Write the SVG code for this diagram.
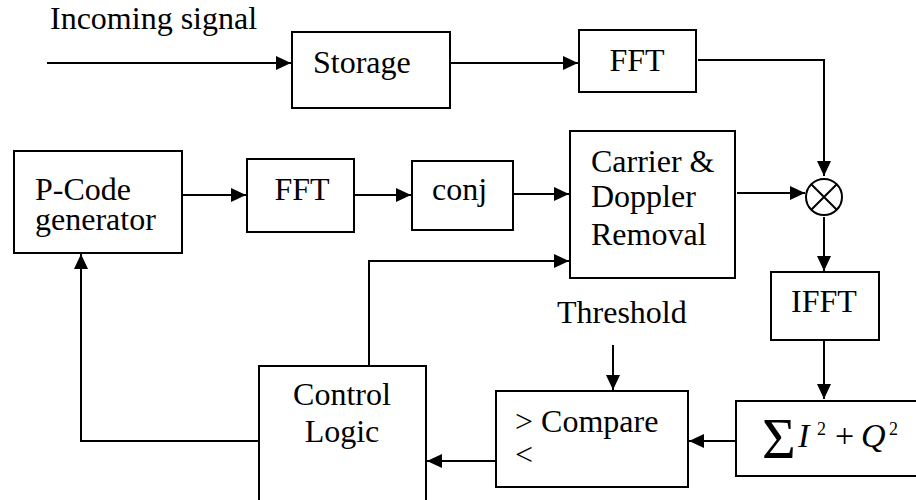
<svg xmlns="http://www.w3.org/2000/svg" width="916" height="500" viewBox="0 0 916 500">
  <style>
    .box { fill: #fff; stroke: #000; stroke-width: 2; }
    .wire { fill: none; stroke: #000; stroke-width: 2; marker-end: url(#arrow); }
    .plain { fill: none; stroke: #000; stroke-width: 2; }
    text { font-family: "Liberation Serif", "Times New Roman", serif; font-size: 32px; fill: #000; }
    .mid { text-anchor: middle; }
    .it { font-style: italic; }
  </style>
  <defs>
    <marker id="arrow" markerUnits="userSpaceOnUse" markerWidth="16" markerHeight="14" refX="15" refY="7" orient="auto">
      <path d="M0,0 L15,7 L0,14 z" fill="#000"/>
    </marker>
  </defs>

  <rect width="916" height="500" fill="#fff"/>

  <text x="50" y="29">Incoming signal</text>
  <text x="557" y="323">Threshold</text>

  <g id="storage">
    <rect class="box" x="292" y="32" width="158" height="76"/>
    <text x="313" y="73">Storage</text>
  </g>
  <g id="fft-signal">
    <rect class="box" x="579" y="30" width="117" height="62"/>
    <text class="mid" x="637" y="71">FFT</text>
  </g>
  <g id="pcode">
    <rect class="box" x="14" y="151" width="168" height="102"/>
    <text x="35" y="200">P-Code</text>
    <text x="35" y="230">generator</text>
  </g>
  <g id="fft-code">
    <rect class="box" x="247" y="159" width="107" height="73"/>
    <text class="mid" x="302" y="200">FFT</text>
  </g>
  <g id="conj">
    <rect class="box" x="412" y="161" width="101" height="69"/>
    <text x="432" y="200">conj</text>
  </g>
  <g id="carrier">
    <rect class="box" x="570" y="131" width="165" height="147"/>
    <text x="591" y="172">Carrier &amp;</text>
    <text x="591" y="207">Doppler</text>
    <text x="591" y="245">Removal</text>
  </g>
  <g id="mixer">
    <circle cx="824" cy="197" r="18" fill="#fff" stroke="#000" stroke-width="2"/>
    <path class="plain" d="M811,184 L837,210 M837,184 L811,210"/>
  </g>
  <g id="ifft">
    <rect class="box" x="771" y="272" width="108" height="68"/>
    <text class="mid" x="824" y="312">IFFT</text>
  </g>
  <g id="sum">
    <rect class="box" x="736" y="401" width="190" height="75"/>
    <text x="762" y="458" style="font-size:58px">Σ</text>
    <text class="it" x="798" y="447" style="font-size:34px">I</text>
    <text x="817" y="435" style="font-size:18px">2</text>
    <text x="835" y="447" style="font-size:34px">+</text>
    <text class="it" x="861" y="447" style="font-size:34px">Q</text>
    <text x="889" y="435" style="font-size:18px">2</text>
  </g>
  <g id="compare">
    <rect class="box" x="496" y="391" width="192" height="96"/>
    <text x="515" y="432">&gt; Compare</text>
    <text x="515" y="465">&lt;</text>
  </g>
  <g id="control">
    <rect class="box" x="259" y="366" width="167" height="150"/>
    <text class="mid" x="342" y="405">Control</text>
    <text class="mid" x="342" y="442">Logic</text>
  </g>

  <g id="connectors">
    <path class="wire" d="M47,63 H291"/>
    <path class="wire" d="M451,63 H578"/>
    <path class="wire" d="M698,60 H824 V176"/>
    <path class="wire" d="M182,195 H246"/>
    <path class="wire" d="M354,195 H411"/>
    <path class="wire" d="M513,194 H569"/>
    <path class="wire" d="M737,193 H805"/>
    <path class="wire" d="M824,217 V271"/>
    <path class="wire" d="M824,340 V399"/>
    <path class="wire" d="M736,441 H689"/>
    <path class="wire" d="M613,345 V390"/>
    <path class="wire" d="M496,461 H427"/>
    <path class="wire" d="M259,441 H81 V254"/>
    <path class="wire" d="M369,366 V261 H569"/>
  </g>
</svg>
